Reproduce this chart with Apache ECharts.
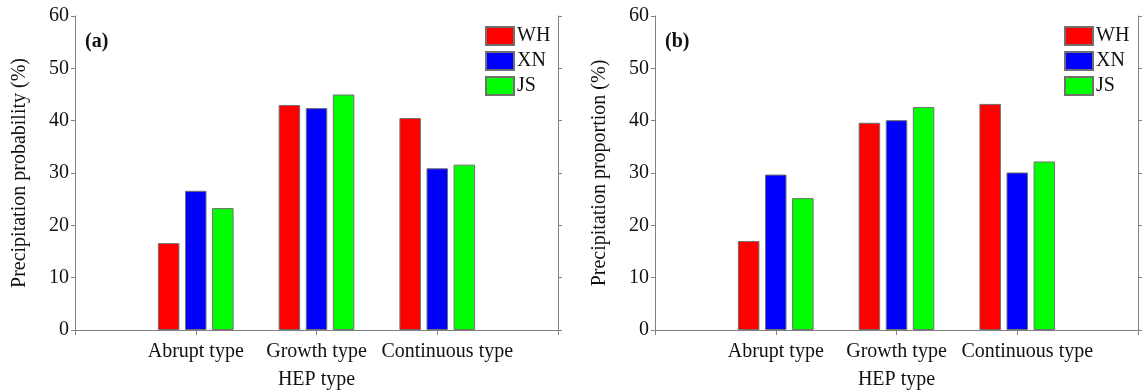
<!DOCTYPE html>
<html>
<head>
<meta charset="utf-8">
<title>HEP type precipitation</title>
<script src="https://cdn.jsdelivr.net/npm/echarts@6/dist/echarts.min.js"></script>
<style>
    html, body { margin: 0; padding: 0; background: #fff; }
    #chart { width: 1148px; height: 391px; }
</style>
</head>
<body>
<div id="chart"></div>
<script>
// categories (empty slots at both ends leave room on the axis)
const categories = ['', 'Abrupt type', 'Growth type', 'Continuous type', ''];
const stations = ['WH', 'XN', 'JS'];
const colors = ['#ff0000', '#0000ff', '#00ff00'];
const yTicks = [0, 10, 20, 30, 40, 50, 60];

// (a) precipitation probability (%)
const probWH = [16.6, 43.0, 40.5];
const probXN = [26.6, 42.4, 30.9];
const probJS = [23.3, 45.0, 31.6];

// (b) precipitation proportion (%)
const propWH = [17.0, 39.6, 43.2];
const propXN = [29.7, 40.1, 30.1];
const propJS = [25.2, 42.6, 32.2];

const font = "'Liberation Serif', 'Times New Roman', serif";
const axisGrey = '#808080';
const textColor = '#111';

function pad(vals) {
    return ['-'].concat(vals, ['-']);
}

// the last label sits a bit right of its tick in the original
function categoryData() {
    return categories.map(function (c) {
        if (c === 'Continuous type') {
            return { value: c, textStyle: { padding: [0, 0, 0, 20] } };
        }
        return c;
    });
}

function xAxes(gridIndex) {
    return [
        {
            type: 'category', gridIndex: gridIndex, position: 'bottom',
            data: categoryData(), boundaryGap: false,
            name: 'HEP type', nameLocation: 'middle', nameGap: 40,
            nameTextStyle: { fontFamily: font, fontSize: 20, color: textColor },
            axisLine: { lineStyle: { color: axisGrey } },
            axisTick: { length: 5, lineStyle: { color: axisGrey } },
            axisLabel: { fontFamily: font, fontSize: 20, color: textColor, margin: 12, interval: 0 },
            splitLine: { show: false }
        },
        {
            type: 'category', gridIndex: gridIndex, position: 'top',
            data: categories, boundaryGap: false,
            axisLine: { lineStyle: { color: axisGrey } },
            axisTick: { length: 4, lineStyle: { color: axisGrey } },
            axisLabel: { show: false },
            splitLine: { show: false }
        }
    ];
}

function yAxes(gridIndex, name) {
    return [
        {
            type: 'value', gridIndex: gridIndex, position: 'left',
            min: 0, max: 60, interval: 10,
            name: name, nameLocation: 'middle', nameGap: 45,
            nameTextStyle: { fontFamily: font, fontSize: 20, color: textColor },
            axisLine: { show: true, lineStyle: { color: axisGrey } },
            axisTick: { show: true, length: 4, lineStyle: { color: axisGrey } },
            axisLabel: {
                fontFamily: font, fontSize: 20, color: textColor, margin: 6,
                formatter: function (v) { return yTicks.indexOf(v) >= 0 ? String(v) : ''; }
            },
            splitLine: { show: false }
        },
        {
            type: 'value', gridIndex: gridIndex, position: 'right',
            min: 0, max: 60, interval: 10,
            axisLine: { show: true, lineStyle: { color: axisGrey } },
            axisTick: { show: true, length: 4, lineStyle: { color: axisGrey } },
            axisLabel: { show: false },
            splitLine: { show: false }
        }
    ];
}

function barSeries(gridIndex, values) {
    return values.map(function (vals, i) {
        return {
            name: stations[i],
            type: 'bar',
            xAxisIndex: gridIndex * 2,
            yAxisIndex: gridIndex * 2,
            data: pad(vals),
            barWidth: 21.5,
            barGap: '26%',
            itemStyle: { color: colors[i], borderColor: '#707070', borderWidth: 1 }
        };
    });
}

function legendAt(left) {
    return {
        orient: 'vertical', left: left, top: 26, padding: 0,
        icon: 'rect', itemWidth: 28, itemHeight: 18, itemGap: 5,
        textStyle: { fontFamily: font, fontSize: 20, lineHeight: 18, color: textColor, padding: [0, 0, 0, -2] },
        data: stations
    };
}

const chart = echarts.init(document.getElementById('chart'));

const option = {
    animation: false,
    textStyle: { fontFamily: font },
    grid: [
        { left: 75, right: 590, top: 16, bottom: 61, outerBoundsMode: 'none', containLabel: false },
        { left: 655, right: 10, top: 16, bottom: 61, outerBoundsMode: 'none', containLabel: false }
    ],
    xAxis: xAxes(0).concat(xAxes(1)),
    yAxis: yAxes(0, 'Precipitation probability (%)').concat(yAxes(1, 'Precipitation proportion (%)')),
    legend: [legendAt(485), legendAt(1064)],
    graphic: [
        { type: 'text', left: 85, top: 32, style: { text: '(a)', font: 'bold 20px ' + font, fill: textColor } },
        { type: 'text', left: 665, top: 32, style: { text: '(b)', font: 'bold 20px ' + font, fill: textColor } }
    ],
    series: barSeries(0, [probWH, probXN, probJS]).concat(barSeries(1, [propWH, propXN, propJS]))
};

chart.setOption(option);
</script>
</body>
</html>
